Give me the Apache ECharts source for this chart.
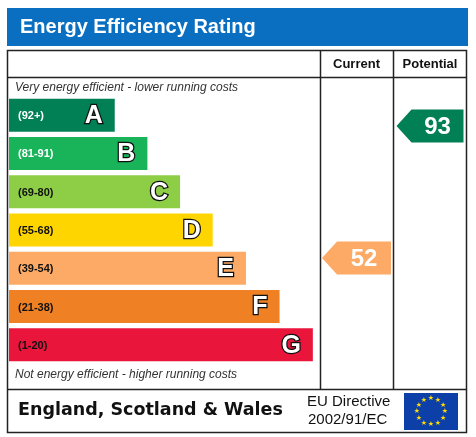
<!DOCTYPE html>
<html>
<head>
<meta charset="utf-8">
<script src="https://cdn.jsdelivr.net/npm/echarts@6/dist/echarts.min.js"></script>
<style>html,body{margin:0;padding:0;background:#fff}#chart{width:476px;height:437px}</style>
</head>
<body>
<div id="chart"></div>
<script>
var bands = ['A', 'B', 'C', 'D', 'E', 'F', 'G'];
var ranges = ['(92+)', '(81-91)', '(69-80)', '(55-68)', '(39-54)', '(21-38)', '(1-20)'];
var barLengths = [34, 44.5, 55, 65.5, 76.2, 87, 97.7];
var bandColors = ['#008054', '#19b459', '#8dce46', '#ffd500', '#fcaa65', '#ef8023', '#e9153b'];
var currentRating = 52;
var potentialRating = 93;

var chart = echarts.init(document.getElementById('chart'));
var F = 'Liberation Sans, Arial, sans-serif';

function colorFor(v) {
  var lims = [92, 81, 69, 55, 39, 21, 1];
  for (var i = 0; i < lims.length; i++) if (v >= lims[i]) return bandColors[i];
  return bandColors[6];
}

function arrowItem(params, api) {
  var p = api.coord([api.value(0), api.value(1)]);
  var w = params.seriesIndex === 1 ? 69 : 67;
  var h = 33, tip = 15;
  var x0 = p[0] - w / 2, yc = p[1];
  return {
    type: 'group',
    children: [{
      type: 'polygon',
      shape: { points: [[x0, yc], [x0 + tip, yc - h / 2], [x0 + w, yc - h / 2], [x0 + w, yc + h / 2], [x0 + tip, yc + h / 2]] },
      style: { fill: colorFor(api.value(1)) }
    }, {
      type: 'text',
      style: { text: String(api.value(1)), x: x0 + tip + (w - tip) / 2, y: yc + 1, align: 'center', verticalAlign: 'middle',
        font: 'bold 24px ' + F, fill: '#fff' }
    }]
  };
}

var stars = [];
for (var k = 0; k < 12; k++) {
  var a = k * Math.PI / 6;
  stars.push({ type: 'text', style: { text: '★', x: 431 + 14 * Math.sin(a), y: 411.5 - 13 * Math.cos(a),
    align: 'center', verticalAlign: 'middle', font: '7px DejaVu Sans', fill: '#ffdd00' } });
}

var option = {
  animation: false,
  grid: [
    { left: 9, top: 96, width: 311, height: 268 },
    { left: 320, top: 98, width: 73, height: 265 },
    { left: 393, top: 98, width: 74, height: 265 }
  ],
  xAxis: [
    { gridIndex: 0, type: 'value', min: 0, max: 100, show: false },
    { gridIndex: 1, type: 'value', min: 0, max: 1, show: false },
    { gridIndex: 2, type: 'value', min: 0, max: 1, show: false }
  ],
  yAxis: [
    { gridIndex: 0, type: 'category', data: bands, inverse: true, show: false },
    { gridIndex: 1, type: 'value', min: 19.4, max: 101.7, show: false },
    { gridIndex: 2, type: 'value', min: 19.4, max: 101.7, show: false }
  ],
  series: [{
    type: 'custom', xAxisIndex: 0, yAxisIndex: 0,
    data: bands.map(function (b, i) { return [barLengths[i], i]; }),
    renderItem: function (params, api) {
      var i = params.dataIndex;
      var end = api.coord([api.value(0), i]);
      var start = api.coord([0, i]);
      var h = 33;
      return {
        type: 'group',
        children: [{
          type: 'rect', shape: { x: start[0], y: end[1] - h / 2, width: end[0] - start[0], height: h },
          style: { fill: bandColors[i] }
        }, {
          type: 'text',
          style: { text: ranges[i], x: start[0] + 9, y: end[1] + 1, verticalAlign: 'middle',
            font: 'bold 11px ' + F, fill: i < 2 ? '#fff' : '#111' }
        }, {
          type: 'text',
          style: { text: bands[i], x: end[0] - 12, y: end[1] + 1, align: 'right', verticalAlign: 'middle',
            font: 'bold 25px ' + F, fill: '#fff', stroke: '#111', lineWidth: 2.5 }
        }]
      };
    }
  }, {
    type: 'custom', xAxisIndex: 1, yAxisIndex: 1,
    data: [[0.5, currentRating]], renderItem: arrowItem
  }, {
    type: 'custom', xAxisIndex: 2, yAxisIndex: 2,
    data: [[0.5, potentialRating]], renderItem: arrowItem
  }],
  graphic: [
    { type: 'rect', shape: { x: 7, y: 8, width: 461, height: 38 }, style: { fill: '#0a6fc0' } },
    { type: 'text', style: { text: 'Energy Efficiency Rating', x: 20, y: 27, verticalAlign: 'middle',
      font: 'bold 20px ' + F, fill: '#fff' } },
    { type: 'rect', shape: { x: 7.5, y: 50.5, width: 459, height: 382 }, style: { fill: 'none', stroke: '#222', lineWidth: 1.5 } },
    { type: 'line', shape: { x1: 7, y1: 77.5, x2: 467, y2: 77.5 }, style: { stroke: '#222', lineWidth: 1.5 } },
    { type: 'line', shape: { x1: 7, y1: 389.5, x2: 467, y2: 389.5 }, style: { stroke: '#222', lineWidth: 1.5 } },
    { type: 'line', shape: { x1: 320.5, y1: 50, x2: 320.5, y2: 389 }, style: { stroke: '#222', lineWidth: 1.5 } },
    { type: 'line', shape: { x1: 393.5, y1: 50, x2: 393.5, y2: 389 }, style: { stroke: '#222', lineWidth: 1.5 } },
    { type: 'text', style: { text: 'Current', x: 356.5, y: 64, align: 'center', verticalAlign: 'middle', font: 'bold 13px ' + F, fill: '#111' } },
    { type: 'text', style: { text: 'Potential', x: 430, y: 64, align: 'center', verticalAlign: 'middle', font: 'bold 13px ' + F, fill: '#111' } },
    { type: 'text', style: { text: 'Very energy efficient - lower running costs', x: 15, y: 88, verticalAlign: 'middle', font: 'italic 12px ' + F, fill: '#333' } },
    { type: 'text', style: { text: 'Not energy efficient - higher running costs', x: 15, y: 375, verticalAlign: 'middle', font: 'italic 12px ' + F, fill: '#333' } },
    { type: 'text', style: { text: 'England, Scotland & Wales', x: 18, y: 410, verticalAlign: 'middle', font: 'bold 17.5px DejaVu Sans, sans-serif', fill: '#111' } },
    { type: 'text', style: { text: 'EU Directive', x: 307, y: 402, verticalAlign: 'middle', font: '15px ' + F, fill: '#111' } },
    { type: 'text', style: { text: '2002/91/EC', x: 308, y: 420, verticalAlign: 'middle', font: '15px ' + F, fill: '#111' } },
    { type: 'rect', shape: { x: 404, y: 393, width: 54, height: 37 }, style: { fill: '#0d3fa8' } }
  ].concat(stars)
};
chart.setOption(option);
</script>
</body>
</html>
